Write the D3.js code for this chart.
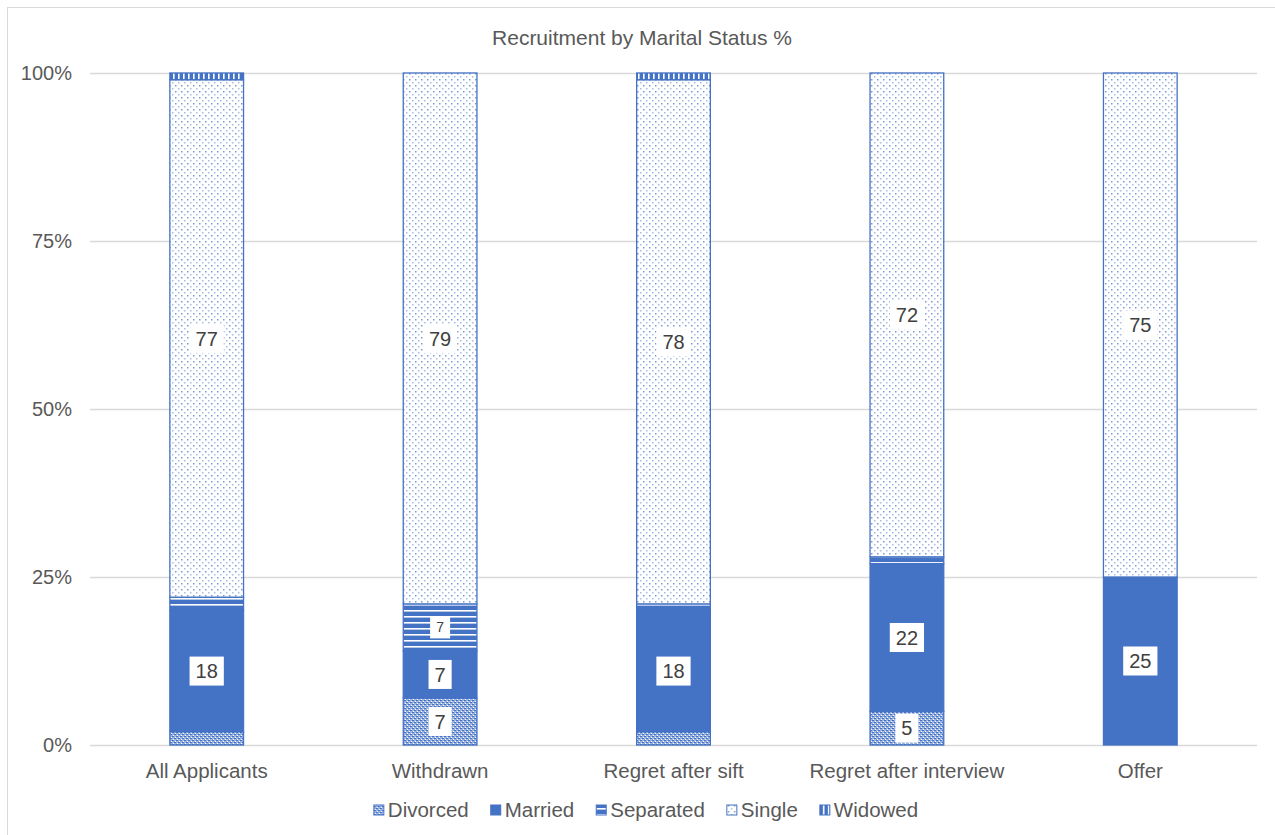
<!DOCTYPE html>
<html>
<head>
<meta charset="utf-8">
<script src="https://cdn.jsdelivr.net/npm/d3@7"></script>
<style>
  body { margin: 0; background: #fff; }
  text { font-family: "Liberation Sans", Arial, sans-serif; }
</style>
</head>
<body>
<div id="chart"></div>
<script>
// data (percent of each stage)
const categories = ['All Applicants', 'Withdrawn', 'Regret after sift', 'Regret after interview', 'Offer']
const statuses = ['Divorced', 'Married', 'Separated', 'Single', 'Widowed']
const divorced  = [2, 7, 2, 5, 0]
const married   = [18, 7, 18, 22, 25]
const separated = [2, 7, 1, 1, 0]
const single    = [77, 79, 78, 72, 75]
const widowed   = [1, 0, 1, 0, 0]
const yTicks = [0, 25, 50, 75, 100]
const title = 'Recruitment by Marital Status %'

const W = 1275, H = 835
const blue = '#4472C4'
const font = '"Liberation Sans", Arial, sans-serif'
const margin = {top: 73, right: 18, bottom: 90, left: 90}

const rows = categories.map((c, i) => ({
  category: c,
  Divorced: divorced[i], Married: married[i], Separated: separated[i],
  Single: single[i], Widowed: widowed[i],
}))

const svg = d3.select('#chart').append('svg')
  .attr('width', W).attr('height', H)

// fill patterns, one per status
const defs = svg.append('defs')
const pat = (id, w, h) => defs.append('pattern')
  .attr('id', id).attr('width', w).attr('height', h)
  .attr('patternUnits', 'userSpaceOnUse')

let p = pat('p-divorced', 4, 4)
p.append('rect').attr('width', 4).attr('height', 4).attr('fill', '#9ab2df')
p.append('rect').attr('x', 0).attr('y', 0).attr('width', 2).attr('height', 1).attr('fill', blue)
p.append('rect').attr('x', 2).attr('y', 2).attr('width', 2).attr('height', 1).attr('fill', blue)
p.append('rect').attr('x', 3).attr('y', 1).attr('width', 1).attr('height', 1).attr('fill', '#fff')
p.append('rect').attr('x', 1).attr('y', 3).attr('width', 1).attr('height', 1).attr('fill', '#fff')

p = pat('p-separated', 6, 6)
p.append('rect').attr('width', 6).attr('height', 6).attr('fill', blue)
p.append('rect').attr('y', 4).attr('width', 6).attr('height', 1.6).attr('fill', '#fff')

p = pat('p-single', 6, 6)
p.append('rect').attr('width', 6).attr('height', 6).attr('fill', '#fff')
p.append('rect').attr('x', 1).attr('y', 1).attr('width', 1.5).attr('height', 1.5).attr('fill', '#7a9ad4')
p.append('rect').attr('x', 4).attr('y', 4).attr('width', 1.5).attr('height', 1.5).attr('fill', '#a9bde4')

p = pat('p-widowed', 5, 5)
p.append('rect').attr('width', 5).attr('height', 5).attr('fill', blue)
p.append('rect').attr('x', 3).attr('width', 1.6).attr('height', 5).attr('fill', '#fff')

const fills = {
  Divorced: 'url(#p-divorced)', Married: blue, Separated: 'url(#p-separated)',
  Single: 'url(#p-single)', Widowed: 'url(#p-widowed)',
}

// outer chart frame
svg.append('rect')
  .attr('x', 7.5).attr('y', 7.5).attr('width', W).attr('height', H)
  .attr('fill', 'none').attr('stroke', '#d9d9d9')

svg.append('text')
  .attr('x', 642).attr('y', 45)
  .attr('text-anchor', 'middle')
  .attr('font-size', 21).attr('fill', '#595959')
  .text(title)

const x = d3.scaleBand()
  .domain(categories)
  .range([margin.left, W - margin.right])
  .paddingInner(0.68).paddingOuter(0.34)

const y = d3.scaleLinear()
  .domain([0, 100])
  .range([H - margin.bottom, margin.top])

// gridlines
svg.append('g')
  .selectAll('line')
  .data(yTicks)
  .join('line')
  .attr('x1', margin.left).attr('x2', W - margin.right)
  .attr('y1', d => Math.round(y(d)) + 0.5).attr('y2', d => Math.round(y(d)) + 0.5)
  .attr('stroke', '#d9d9d9').attr('stroke-width', 1.3)

const yAxis = svg.append('g')
  .attr('transform', `translate(${margin.left},0)`)
  .call(d3.axisLeft(y).tickValues(yTicks).tickFormat(d => d + '%').tickSize(0).tickPadding(18))
yAxis.select('.domain').remove()
yAxis.selectAll('text').attr('font-size', 20).attr('fill', '#595959').style('font-family', font)

const xAxis = svg.append('g')
  .attr('transform', `translate(0,${H - margin.bottom})`)
  .call(d3.axisBottom(x).tickSize(0).tickPadding(18))
xAxis.select('.domain').remove()
xAxis.selectAll('text').attr('font-size', 20.5).attr('fill', '#595959').style('font-family', font)

const stacked = d3.stack().keys(statuses)(rows)

const layers = svg.append('g')
  .selectAll('g')
  .data(stacked)
  .join('g')
  .attr('fill', d => fills[d.key])

layers.selectAll('rect')
  .data(d => d.filter(s => s[1] - s[0] > 0))
  .join('rect')
  .attr('x', d => x(d.data.category) + 0.5)
  .attr('width', x.bandwidth() - 1)
  .attr('y', d => y(d[1]))
  .attr('height', d => y(d[0]) - y(d[1]))
  .attr('stroke', blue).attr('stroke-width', 1.3)

// data labels on segments of 5% or more
const labels = []
stacked.forEach(layer => {
  layer.forEach(s => {
    const v = s[1] - s[0]
    if (v >= 5) labels.push({key: layer.key, v, cx: x(s.data.category) + x.bandwidth() / 2, cy: y((s[0] + s[1]) / 2)})
  })
})

const lab = svg.append('g')
  .selectAll('g')
  .data(labels)
  .join('g')
  .attr('transform', d => `translate(${d.cx},${d.cy})`)

lab.append('text')
  .attr('text-anchor', 'middle')
  .attr('dy', '0.36em')
  .attr('font-size', d => d.key === 'Separated' ? 14 : 20)
  .attr('fill', '#404040')
  .text(d => d.v)
  .each(function(d) {
    const b = this.getBBox()
    d.box = d.key === 'Separated'
      ? {w: b.width + 12, h: 22}
      : {w: b.width + 12, h: 29}
  })

lab.insert('rect', 'text')
  .attr('x', d => -d.box.w / 2).attr('y', d => -d.box.h / 2)
  .attr('width', d => d.box.w).attr('height', d => d.box.h)
  .attr('fill', '#fff')

// legend
const legend = svg.append('g').attr('transform', `translate(0,${H - 25})`)
const items = legend.selectAll('g')
  .data(statuses)
  .join('g')
items.append('rect')
  .attr('width', 10).attr('height', 10).attr('y', -5)
  .attr('fill', d => fills[d]).attr('stroke', blue).attr('stroke-width', 1)
items.append('text')
  .attr('x', 14).attr('dy', '0.35em')
  .attr('font-size', 20.5).attr('fill', '#595959')
  .text(d => d)

let offs = []
let total = 0
items.each(function() {
  const w = this.getBBox().width
  offs.push(total)
  total += w + 22
})
total -= 22
const start = 646 - total / 2
items.attr('transform', (d, i) => `translate(${start + offs[i]},0)`)
</script>
</body>
</html>
